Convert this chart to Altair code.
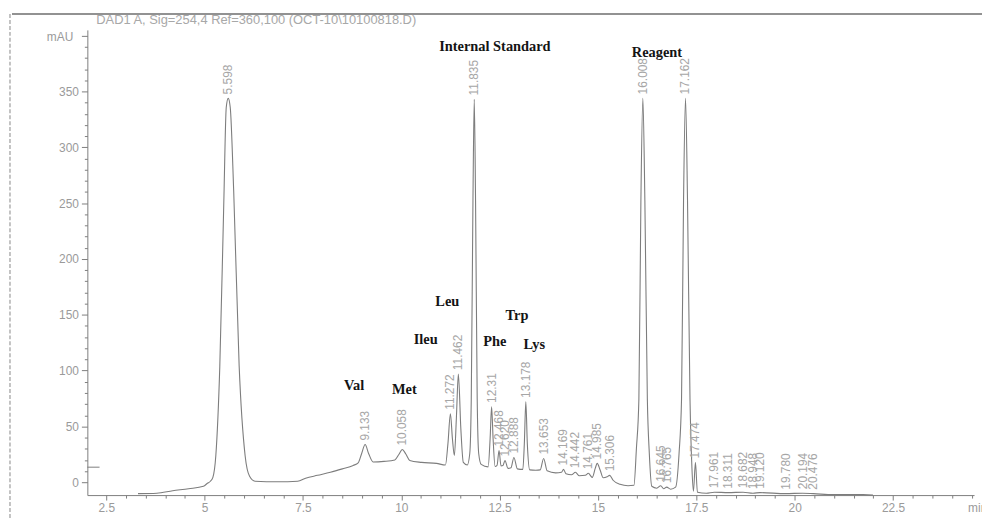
import numpy as np
import pandas as pd
import altair as alt

# ---- chromatogram trace (retention time in min, signal in mAU) ----
trace_time = [3.307, 3.786, 4.189, 4.593, 4.971, 5.072, 5.148, 5.211, 5.286, 5.387, 5.488, 5.551,
              5.601, 5.652, 5.740, 5.879, 6.030, 6.144, 6.282, 6.862, 7.366, 7.568, 7.871, 8.198,
              8.501, 8.778, 8.904, 8.993, 9.081, 9.169, 9.283, 9.560, 9.837, 9.938, 10.026, 10.115,
              10.216, 10.518, 10.896, 11.123, 11.186, 11.249, 11.300, 11.350, 11.400, 11.451, 11.514,
              11.577, 11.678, 11.741, 11.779, 11.822, 11.855, 11.888, 11.930, 11.968, 12.031, 12.208,
              12.258, 12.296, 12.334, 12.384, 12.434, 12.485, 12.535, 12.586, 12.636, 12.712, 12.788,
              12.863, 12.951, 13.090, 13.128, 13.166, 13.204, 13.266, 13.418, 13.531, 13.619, 13.708,
              13.922, 14.073, 14.124, 14.187, 14.326, 14.427, 14.527, 14.679, 14.755, 14.855, 14.930,
              14.980, 15.057, 15.132, 15.233, 15.296, 15.384, 15.561, 15.763, 15.914, 15.977, 16.040,
              16.091, 16.141, 16.192, 16.255, 16.305, 16.368, 16.494, 16.595, 16.671, 16.746, 16.847,
              16.973, 17.061, 17.124, 17.175, 17.225, 17.276, 17.339, 17.389, 17.427, 17.477, 17.528,
              17.755, 17.957, 18.310, 18.688, 18.940, 19.117, 19.772, 20.201, 20.478, 20.982, 21.738,
              21.990]
trace_mau = [-10.2, -9.8, -7.6, -5.8, -3.6, -0.9, 0.9, 4.4, 24.0, 104.0, 249.6, 335.8,
             343.8, 335.8, 261.0, 104.0, 24.0, 5.3, 0.9, 0.4, 0.9, 3.6, 6.2, 8.9,
             12.0, 15.1, 17.3, 25.8, 33.8, 25.8, 18.2, 18.7, 20.0, 24.9, 29.3, 25.3,
             19.5, 17.8, 16.9, 15.5, 34.6, 61.3, 39.0, 24.0, 56.9, 96.8, 48.0,
             17.8, 15.5, 25.8, 74.6, 252.3, 342.9, 252.3, 74.6, 25.8, 16.0, 13.8,
             39.0, 67.5, 39.0, 14.2, 15.1, 28.4, 14.7, 15.1, 19.5, 12.4, 12.9,
             22.2, 12.0, 11.5, 34.6, 72.0, 34.6, 11.1, 10.7, 11.1, 21.3, 10.2,
             8.4, 8.9, 11.5, 7.6, 6.7, 8.9, 5.8, 6.2, 8.0, 4.4, 12.4,
             16.9, 10.7, 4.0, 4.9, 6.2, 1.8, -1.8, -3.1, -2.7, 30.2, 74.6,
             252.3, 343.8, 252.3, 74.6, 25.8, -3.6, -5.3, -3.1, -5.8, -4.4, -6.2,
             -4.4, 25.8, 74.6, 252.3, 343.8, 252.3, 74.6, 12.4, -8.0, 17.8, -8.9,
             -9.8, -8.9, -9.3, -8.9, -9.8, -9.3, -10.2, -9.8, -10.2, -11.1, -11.1,
             -11.5]

# ---- printed retention-time labels at the peak apexes ----
peak_time = [5.601, 9.081, 10.026, 11.249, 11.451, 11.855, 12.296, 12.485, 12.636, 12.863,
             13.166, 13.619, 14.124, 14.427, 14.755, 14.980, 15.296, 16.141, 16.595, 16.746,
             17.225, 17.477, 17.957, 18.310, 18.688, 18.940, 19.117, 19.772, 20.201, 20.478]
peak_mau = [343.8, 33.8, 29.3, 61.3, 96.8, 342.9, 67.5, 28.4, 19.5, 22.2,
            72.0, 21.3, 11.5, 8.9, 8.0, 16.9, 6.2, 343.8, -3.1, -4.4,
            343.8, 17.8, -8.9, -9.3, -8.9, -9.8, -9.3, -10.2, -9.8, -10.2]
peak_text = ["5.598", "9.133", "10.058", "11.272", "11.462", "11.835", "12.31", "12.468", "12.620", "12.888",
             "13.178", "13.653", "14.169", "14.442", "14.761", "14.985", "15.306", "16.008", "16.645", "16.765",
             "17.162", "17.474", "17.961", "18.311", "18.682", "18.948", "19.120", "19.780", "20.194", "20.476"]

# ---- compound annotations ----
ann_text = ["Internal Standard", "Reagent", "Leu", "Ileu", "Phe", "Trp", "Lys", "Val", "Met"]
ann_time = [12.38, 16.50, 11.17, 10.62, 12.38, 12.94, 13.38, 8.80, 10.08]
ann_mau = [390.0, 384.5, 161.0, 127.5, 126.0, 149.0, 122.5, 86.0, 82.5]

# start-of-signal marker on the y axis
start_time = [2.02, 2.33]
start_mau = [13.5, 13.5]

x_ticks = [float(v) for v in np.arange(2.5, 24.51, 0.5)]
y_ticks = [float(v) for v in np.arange(0, 401, 10)]

title_text = "DAD1 A, Sig=254,4 Ref=360,100 (OCT-10\\10100818.D)"

GRAY = "#7d7d7d"
LABEL_GRAY = "#9a9a9a"
SANS = "Liberation Sans"

xs = alt.Scale(domain=[2.02, 24.56], nice=False, zero=False)
ys = alt.Scale(domain=[-11.5, 405.1], nice=False, zero=False)

xaxis = alt.Axis(
    values=x_ticks, title=None, grid=False,
    labelExpr="datum.value % 2.5 === 0 ? format(datum.value, '~g') : ''",
    tickSize={"condition": {"test": "datum.value % 2.5 === 0", "value": 5}, "value": 3},
    labelPadding=3, labelFlush=False, labelOverlap=False,
)
yaxis = alt.Axis(
    values=y_ticks, grid=False, title="mAU",
    labelExpr="datum.value % 50 === 0 && datum.value < 400 ? datum.label : ''",
    tickSize={"condition": {"test": "datum.value % 50 === 0", "value": 6}, "value": 3},
    labelPadding=3, labelOverlap=False,
    titleAngle=0, titleX=-28, titleY=7, titleAlign="center", titleBaseline="middle",
    titleFontWeight="normal", titleColor=LABEL_GRAY, titleFont=SANS, titleFontSize=12,
)

X = lambda f: alt.X(f, type="quantitative", scale=xs, axis=xaxis)
Y = lambda f: alt.Y(f, type="quantitative", scale=ys, axis=yaxis)

trace_df = pd.DataFrame({"t": trace_time, "v": trace_mau})
peak_df = pd.DataFrame({"t": peak_time, "v": peak_mau, "label": peak_text})
ann_df = pd.DataFrame({"t": ann_time, "v": ann_mau, "label": ann_text})
start_df = pd.DataFrame({"t": [start_time[0]], "t2": [start_time[1]], "v": [start_mau[0]]})
one = pd.DataFrame({"a": [0]})

line = alt.Chart(trace_df).mark_line(color=GRAY, strokeWidth=1.1, interpolate="monotone").encode(
    x=X("t"), y=Y("v"))

peaks = alt.Chart(peak_df).mark_text(
    angle=270, align="left", baseline="middle", dx=4, fontSize=12, font=SANS, color="#a6a6a6"
).encode(x=X("t"), y=Y("v"), text="label:N")

ann = alt.Chart(ann_df).mark_text(
    font="Liberation Serif", fontWeight="bold", fontSize=14.5, color="#141414",
    align="center", baseline="middle"
).encode(x=X("t"), y=Y("v"), text="label:N")

start = alt.Chart(start_df).mark_rule(color=GRAY, strokeWidth=1).encode(
    x=X("t"), x2="t2:Q", y=Y("v"))

frame_top = alt.Chart(one).mark_rule(color="#6e6e6e", strokeWidth=1.5).encode(
    x=alt.value(-76), x2=alt.value(910), y=alt.value(-16))
frame_left = alt.Chart(one).mark_rule(color="#9c9c9c", strokeWidth=1.2, strokeDash=[4, 2]).encode(
    x=alt.value(-78), y=alt.value(-16), y2=alt.value(500))

title = alt.Chart(one).mark_text(
    text=title_text, align="left", baseline="middle", fontSize=13, font=SANS, color="#a8a8a8"
).encode(x=alt.value(9), y=alt.value(-10))
unit = alt.Chart(one).mark_text(
    text="min", align="left", baseline="middle", fontSize=12, font=SANS, color=LABEL_GRAY
).encode(x=alt.value(888), y=alt.value(482))

chart = alt.layer(frame_top, frame_left, title, unit, line, start, peaks, ann).properties(
    width=894, height=469, autosize="none",
    padding={"left": 80, "top": 20, "right": 8, "bottom": 21},
).configure_view(stroke=None).configure_axis(
    domainColor=GRAY, tickColor=GRAY, labelColor=LABEL_GRAY, labelFont=SANS, labelFontSize=12,
    domainWidth=1, tickWidth=1,
)

chart.save("out.html", embed_options={"renderer": "svg", "actions": False})
